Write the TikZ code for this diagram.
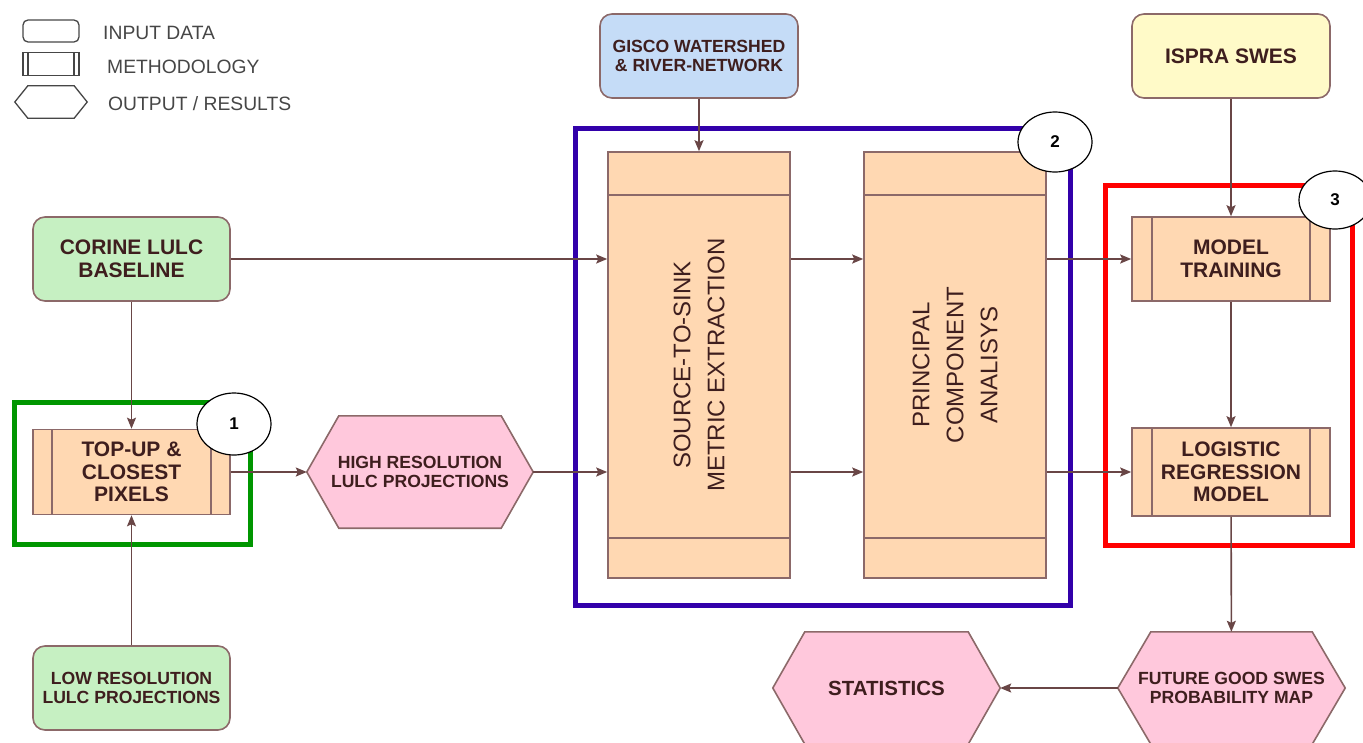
\documentclass[tikz,border=0pt]{standalone}
\usepackage{fontspec}
\setmainfont{Liberation Sans}
\usetikzlibrary{arrows.meta,shapes.geometric,backgrounds}
\definecolor{edge}{RGB}{140,105,105}
\definecolor{arr}{RGB}{105,70,70}
\definecolor{txt}{RGB}{62,30,30}
\definecolor{lg}{RGB}{70,70,70}
\definecolor{ingreen}{RGB}{198,240,194}
\definecolor{inblue}{RGB}{197,220,247}
\definecolor{inyellow}{RGB}{255,250,200}
\definecolor{meth}{RGB}{255,216,178}
\definecolor{outpink}{RGB}{255,200,220}
\definecolor{fgreen}{RGB}{0,150,0}
\definecolor{fblue}{RGB}{50,0,170}
\definecolor{fred}{RGB}{255,0,0}
\newcommand\bigb{\bfseries\fontsize{21}{22.5}\selectfont}
\newcommand\smallb{\bfseries\fontsize{17.6}{19.5}\selectfont}
\newcommand\hexof[3]{\begin{scope}[on background layer]\filldraw[#1] (#2.west) -- ([xshift=#3]#2.north west) -- ([xshift=-#3]#2.north east) -- (#2.east) -- ([xshift=-#3]#2.south east) -- ([xshift=#3]#2.south west) -- cycle;\end{scope}}
\begin{document}
\begin{tikzpicture}[x=1pt,y=-1pt,
  inbox/.style={draw=edge, line width=1.6pt, rounded corners=12pt, align=center, text=txt, font=\bigb, inner sep=0pt},
  methbox/.style={draw=edge, fill=meth, line width=1.6pt, align=center, text=txt, font=\bigb, inner sep=0pt,
    path picture={\draw[edge,line width=1.6pt] ([xshift=#1]path picture bounding box.north west) -- ([xshift=#1]path picture bounding box.south west)
      ([xshift=-#1]path picture bounding box.north east) -- ([xshift=-#1]path picture bounding box.south east);}},
  methbox/.default=19pt,
  vmeth/.style={draw=edge, fill=meth, line width=1.6pt, inner sep=0pt,
    path picture={\draw[edge,line width=1.6pt] ([yshift=-43pt]path picture bounding box.north west) -- ([yshift=-43pt]path picture bounding box.north east)
      ([yshift=40pt]path picture bounding box.south west) -- ([yshift=40pt]path picture bounding box.south east);}},
  vtext/.style={rotate=90, align=center, text=txt, font=\fontsize{24}{34}\selectfont, inner sep=0pt},
  hexlabel/.style={align=center, text=txt, inner sep=0pt},
  hexline/.style={draw=edge, fill=outpink, line width=1.6pt},
  frame/.style={draw=#1, line width=5pt, inner sep=0pt},
  num/.style={ellipse, draw=black, fill=white, line width=1.2pt, font=\bfseries\fontsize{17}{17}\selectfont, inner sep=0pt},
  legtext/.style={anchor=west, text=lg, font=\fontsize{19.3}{20}\selectfont, inner sep=0pt},
  conn/.style={draw=arr, line width=1.6pt, -{Stealth[length=11pt,width=9pt,inset=2pt]}},
]
\useasboundingbox (0,0) rectangle (1363,742);

% legend
\node[draw=lg, line width=1.3pt, rounded corners=5pt, minimum width=56pt, minimum height=22pt, inner sep=0pt] (lgin) at (51,31) {};
\node[draw=lg, line width=1.3pt, minimum width=56pt, minimum height=23pt, inner sep=0pt,
  path picture={\draw[lg,line width=1.3pt] ([xshift=5pt]path picture bounding box.north west) -- ([xshift=5pt]path picture bounding box.south west)
      ([xshift=-5pt]path picture bounding box.north east) -- ([xshift=-5pt]path picture bounding box.south east);}] (lgmeth) at (51,64) {};
\node[minimum width=72pt, minimum height=32pt, inner sep=0pt] (lgout) at (51,102) {};
\hexof{draw=lg, fill=white, line width=1.3pt}{lgout}{13pt}
\node[legtext] (lgintext) at (103,33) {INPUT DATA};
\node[legtext] (lgmethtext) at (107,67) {METHODOLOGY};
\node[legtext] (lgouttext) at (108,104) {OUTPUT / RESULTS};

% frames
\node[frame=fgreen, minimum width=236pt, minimum height=142pt] (f1) at (132,473) {};
\node[frame=fblue, minimum width=495pt, minimum height=477pt] (f2) at (822.5,366.5) {};
\node[frame=fred, minimum width=247pt, minimum height=360pt] (f3) at (1228.5,365) {};

% input boxes
\node[inbox, fill=ingreen, minimum width=197pt, minimum height=84pt] (corine) at (131.5,259) {CORINE LULC\\BASELINE};
\node[inbox, fill=ingreen, minimum width=197pt, minimum height=84pt, font=\smallb] (lowres) at (131.5,688) {LOW RESOLUTION\\LULC PROJECTIONS};
\node[inbox, fill=inblue, minimum width=198pt, minimum height=84pt, font=\smallb] (gisco) at (699,56) {GISCO WATERSHED\\\& RIVER-NETWORK};
\node[inbox, fill=inyellow, minimum width=198pt, minimum height=84pt] (ispra) at (1231,56) {ISPRA SWES};

% methodology boxes
\node[methbox, minimum width=197pt, minimum height=85pt] (topup) at (131.5,472) {TOP-UP \&\\CLOSEST\\PIXELS};
\node[vmeth, minimum width=182pt, minimum height=426pt] (source) at (699,365) {};
\node[vtext] (sourcetxt) at (source.center) {SOURCE-TO-SINK\\METRIC EXTRACTION};
\node[vmeth, minimum width=182pt, minimum height=426pt] (pca) at (955,365) {};
\node[vtext] (pcatxt) at (pca.center) {PRINCIPAL\\COMPONENT\\ANALISYS};
\node[methbox=20pt, minimum width=198pt, minimum height=84pt] (train) at (1231,259) {MODEL\\TRAINING};
\node[methbox=20pt, minimum width=198pt, minimum height=88pt] (logit) at (1231,472) {LOGISTIC\\REGRESSION\\MODEL};

% outputs
\node[hexlabel, minimum width=226pt, minimum height=112pt, font=\smallb] (hires) at (420,472) {HIGH RESOLUTION\\LULC PROJECTIONS};
\hexof{hexline}{hires}{32pt}
\node[hexlabel, minimum width=227pt, minimum height=112pt, font=\smallb] (future) at (1231.5,688) {FUTURE GOOD SWES\\PROBABILITY MAP};
\hexof{hexline}{future}{33pt}
\node[hexlabel, minimum width=227pt, minimum height=112pt, font=\bfseries\fontsize{20.5}{22}\selectfont] (stats) at (886.5,688) {STATISTICS};
\hexof{hexline}{stats}{32pt}

% connectors
\draw[conn] (corine) -- (topup);
\draw[conn] (lowres) -- (topup);
\draw[conn] (topup.east) -- (hires.west);
\draw[conn] (hires.east) -- (source.west |- hires.east);
\draw[conn] (corine.east) -- (source.west |- corine.east);
\draw[conn] (gisco) -- (source);
\draw[conn] (source.east |- corine.east) -- (pca.west |- corine.east);
\draw[conn] (source.east |- hires.east) -- (pca.west |- hires.east);
\draw[conn] (pca.east |- train.west) -- (train.west);
\draw[conn] (pca.east |- logit.west) -- (logit.west);
\draw[conn] (ispra) -- (train);
\draw[conn] (train) -- (logit);
\draw[conn] (logit) -- (future);
\draw[conn] (future) -- (stats);

% numbers
\node[num, minimum width=74pt, minimum height=62pt] (n1) at (234,424) {1};
\node[num, minimum width=74pt, minimum height=60pt] (n2) at (1055,142) {2};
\node[num, minimum width=72pt, minimum height=58pt] (n3) at (1335,200) {3};
\end{tikzpicture}
\end{document}
